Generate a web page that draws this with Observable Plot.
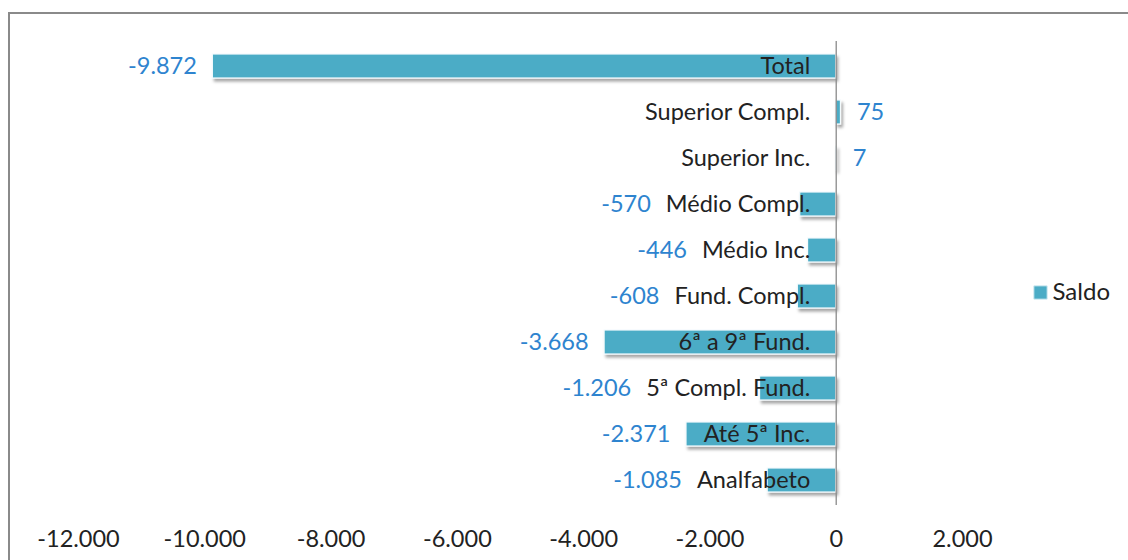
<!DOCTYPE html>
<html>
<head>
<meta charset="utf-8">
<script src="https://cdn.jsdelivr.net/npm/d3@7"></script>
<script src="https://cdn.jsdelivr.net/npm/@observablehq/plot@0.6"></script>
<style>
  html, body { margin: 0; padding: 0; background: #fff; }
  #wrap { position: relative; width: 1128px; height: 560px; overflow: hidden; }
  #border { position: absolute; left: 8px; top: 12px; width: 1200px; height: 600px; border: 2px solid #8a8a8a; box-sizing: border-box; pointer-events: none; }
  svg { display: block; }
</style>
</head>
<body>
<div id="wrap"><div id="border"></div></div>
<script>
const categories = ["Total", "Superior Compl.", "Superior Inc.", "Médio Compl.", "Médio Inc.", "Fund. Compl.", "6ª a 9ª Fund.", "5ª Compl. Fund.", "Até 5ª Inc.", "Analfabeto"];
const saldo = [-9872, 75, 7, -570, -446, -608, -3668, -1206, -2371, -1085];
const xTicks = [-12000, -10000, -8000, -6000, -4000, -2000, 0, 2000];
const seriesName = "Saldo";

const W = 1128, H = 560;
const M = {left: 78, right: 166, top: 41, bottom: 55};
const FONT = "Lato, 'Open Sans', sans-serif";
const FS = 23.5;
const barColor = "#4bacc6";
const labelBlue = "#2e84cf";

const locale = d3.formatLocale({decimal: ",", thousands: ".", grouping: [3], currency: ["R$", ""], minus: "-"});
const fmt = locale.format(",d");

const data = categories.map((c, i) => ({cat: c, v: saldo[i]}));

// measure category label widths to keep value labels clear of them
const ctx = document.createElement("canvas").getContext("2d");
ctx.font = `${FS}px ${FONT}`;
const xs = d3.scaleLinear().domain([-12000, 2000]).range([M.left, W - M.right]);
const catDx = -26, gapBar = 16, gapCat = 15;
data.forEach(d => {
  const w = ctx.measureText(d.cat).width;
  const catLeft = xs(0) + catDx - w;
  if (d.v < 0) {
    d.lx = xs.invert(Math.min(xs(d.v) - gapBar, catLeft - gapCat));
  } else {
    d.lx = xs.invert(xs(d.v) + gapBar);
  }
});
const negData = data.filter(d => d.v < 0);
const posData = data.filter(d => d.v >= 0);

const plot = Plot.plot({
  width: W, height: H,
  marginLeft: M.left, marginRight: M.right, marginTop: M.top, marginBottom: M.bottom,
  style: {fontFamily: FONT, fontSize: FS + "px", background: "transparent"},
  x: {domain: [-12000, 2000]},
  y: {domain: categories, paddingInner: 0.48, paddingOuter: 0.24, axis: null},
  marks: [
    Plot.barX(data, {x: "v", y: "cat", fill: barColor, stroke: "#f4fbfd", strokeWidth: 1.2}),
    Plot.ruleX([0], {stroke: "#8a8a8a", strokeWidth: 1.3}),
    Plot.axisX({ticks: xTicks, tickFormat: fmt, tickSize: 0, tickPadding: 25, line: true, stroke: "#8a8a8a", fill: "#222", fontSize: FS}),
    Plot.text(data, {x: 0, y: "cat", text: "cat", dx: catDx, textAnchor: "end", fill: "#222", fontSize: FS}),
    Plot.text(negData, {x: "lx", y: "cat", text: d => fmt(d.v), textAnchor: "end", fill: labelBlue, fontSize: FS}),
    Plot.text(posData, {x: "lx", y: "cat", text: d => fmt(d.v), textAnchor: "start", fill: labelBlue, fontSize: FS}),
    Plot.dot([seriesName], {frameAnchor: "right", dx: 78, dy: 19, symbol: "square", r: 7.5, fill: barColor, stroke: "#cfe9f1", strokeWidth: 1}),
    Plot.text([seriesName], {frameAnchor: "right", dx: 90, dy: 19, text: d => d, textAnchor: "start", fill: "#222", fontSize: 24})
  ]
});

// drop shadow for bars
const svg = d3.select(plot);
const defs = svg.insert("defs", ":first-child");
const f = defs.append("filter").attr("id", "barShadow").attr("x", "-10%").attr("y", "-30%").attr("width", "130%").attr("height", "180%");
f.append("feDropShadow").attr("dx", 2).attr("dy", 3).attr("stdDeviation", 1.5).attr("flood-color", "#000").attr("flood-opacity", 0.35);
svg.select('g[aria-label="bar"]').attr("filter", "url(#barShadow)");

document.getElementById("wrap").prepend(plot);
</script>
</body>
</html>
